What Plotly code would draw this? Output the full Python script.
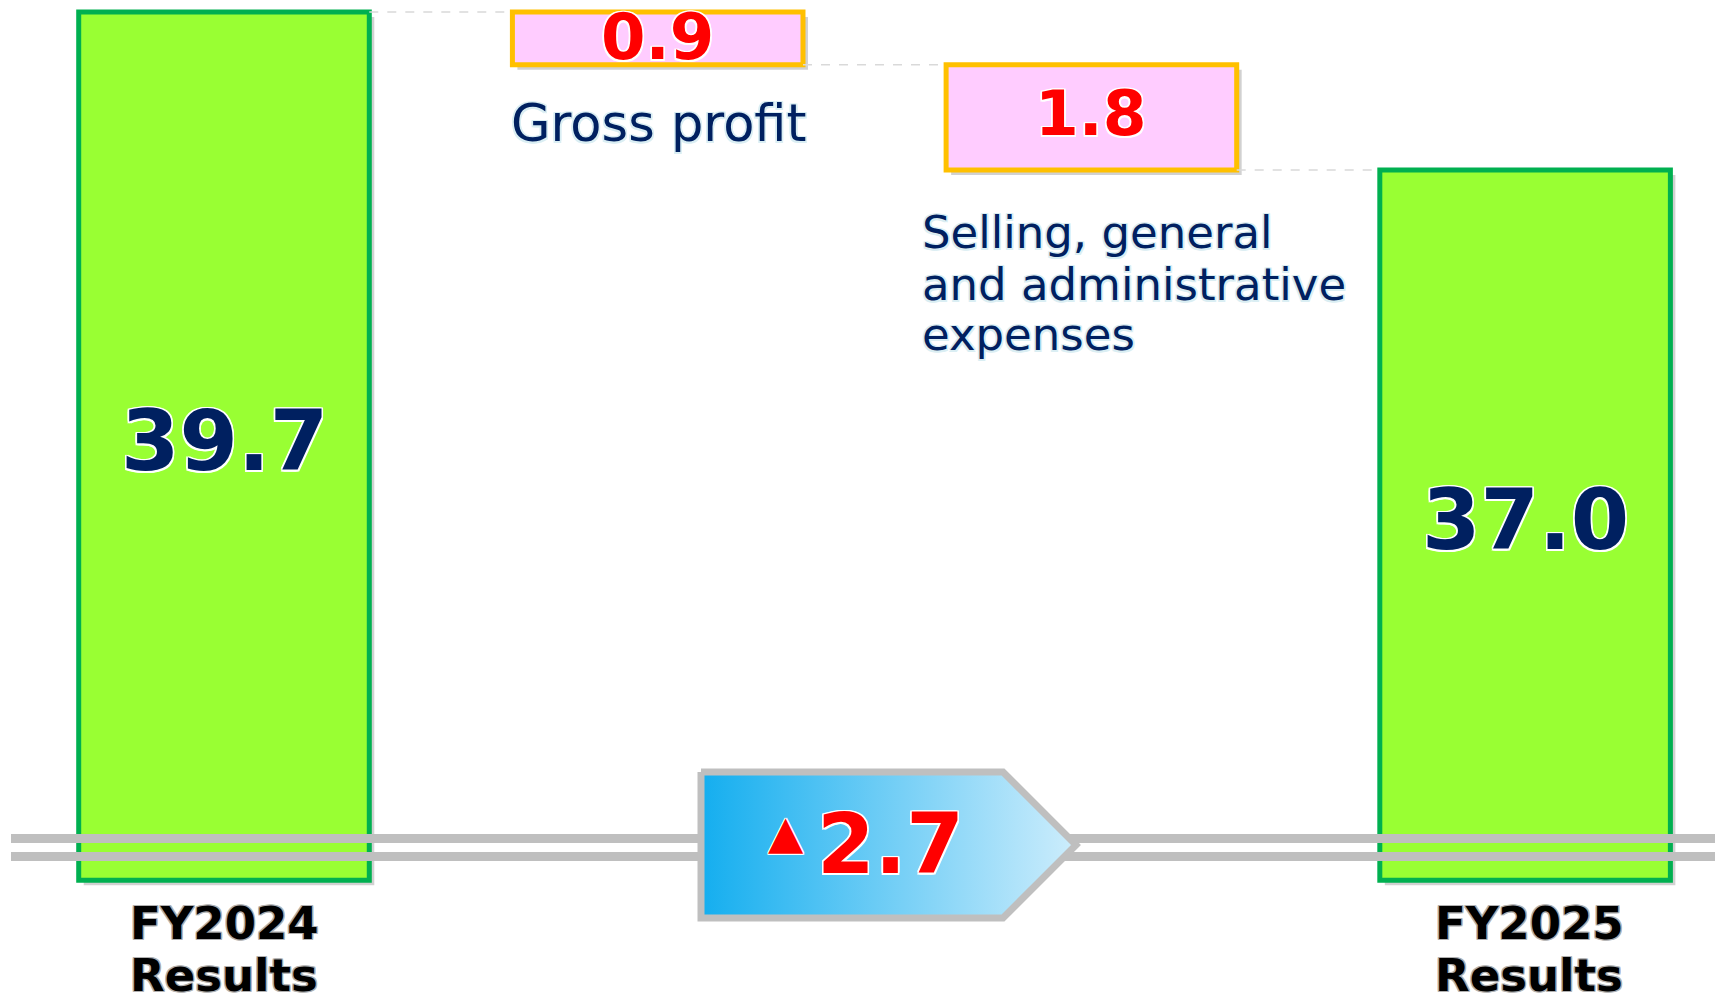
import plotly.graph_objects as go

# ---------------- data ----------------
categories = ["FY2024 Results", "Gross profit",
              "Selling, general and administrative expenses", "FY2025 Results"]
start_value = 39.7
change_values = [-0.9, -1.8]
end_value = 37.0
value_labels = ["39.7", "0.9", "1.8", "37.0"]
label_lines = [["FY2024", "Results"], ["Gross profit"],
               ["Selling, general", "and administrative", "expenses"],
               ["FY2025", "Results"]]
total_change_label = "2.7"
negative_mark = "▲"

# ---------------- geometry / style ----------------
W, H = 1715, 1003
PX_PER_X = 433.7
X_FIRST_PX = 224.0
PX_PER_Y = 58.5
Y_TOP = start_value + 12 / PX_PER_Y
AXIS_FLOOR = 24.86         # visible floor of broken axis
BAR_W = 0.67

XR = [-X_FIRST_PX / PX_PER_X, (W - X_FIRST_PX) / PX_PER_X]
YR = [Y_TOP - H / PX_PER_Y, Y_TOP]


def px_x(p):
    return XR[0] + p / PX_PER_X


def px_y(p):
    return Y_TOP - p / PX_PER_Y


NAVY = "#002060"
TOTAL_FILL, TOTAL_LINE = "#99ff33", "#00b050"
CHG_FILL, CHG_LINE = "#ffccff", "#ffc000"
FONT = "DejaVu Sans"


def halo(c, d=1.5):
    return (f"-{d}px -{d}px 0 {c}, {d}px -{d}px 0 {c}, -{d}px {d}px 0 {c}, {d}px {d}px 0 {c}, "
            f"0 {d}px 0 {c}, 0 -{d}px 0 {c}, {d}px 0 0 {c}, -{d}px 0 0 {c}")


# levels
levels = [start_value]
for c in change_values:
    levels.append(levels[-1] + c)
bases = [AXIS_FLOOR] + [levels[i + 1] for i in range(len(change_values))] + [AXIS_FLOOR]
tops = [start_value] + [levels[i] for i in range(len(change_values))] + [end_value]
heights = [t - b for t, b in zip(tops, bases)]
xs = list(range(len(categories)))
fills = [TOTAL_FILL] + [CHG_FILL] * len(change_values) + [TOTAL_FILL]
lines = [TOTAL_LINE] + [CHG_LINE] * len(change_values) + [TOTAL_LINE]

fig = go.Figure()

# shadows
fig.add_trace(go.Bar(
    x=xs, y=heights, base=[b - 5 / PX_PER_Y for b in bases], width=BAR_W,
    offset=-BAR_W / 2 + 5 / PX_PER_X,
    marker=dict(color="rgba(0,0,0,0.18)", line=dict(width=0)),
    hoverinfo="skip", showlegend=False))

fig.add_trace(go.Bar(
    x=xs, y=heights, base=bases, width=BAR_W,
    marker=dict(color=fills, line=dict(color=lines, width=5)),
    hoverinfo="skip", showlegend=False))

# dashed connectors
for i in range(len(categories) - 1):
    lvl = tops[i] if i == 0 else bases[i]
    fig.add_trace(go.Scatter(
        x=[i + BAR_W / 2, i + 1 - BAR_W / 2], y=[lvl, lvl], mode="lines",
        line=dict(color="#d9d9d9", width=1.5, dash="dash"),
        hoverinfo="skip", showlegend=False))

# axis break lines
for ypx in (838.5, 856.5):
    fig.add_trace(go.Scatter(
        x=[px_x(11), px_x(W)], y=[px_y(ypx)] * 2, mode="lines",
        line=dict(color="#bfbfbf", width=9), hoverinfo="skip", showlegend=False))

# change arrow
ax = [px_x(p) for p in (701, 1003, 1076, 1003, 701, 701)]
ay = [px_y(p) for p in (772, 772, 845, 918, 918, 772)]
fig.add_trace(go.Scatter(
    x=ax, y=ay, mode="lines", fill="toself",
    fillgradient=dict(type="horizontal",
                      colorscale=[[0, "#14aeef"], [1, "#cdedfc"]]),
    line=dict(color="#bfbfbf", width=7), hoverinfo="skip", showlegend=False))

ann = []
# values inside bars
val_shift = [5.5, 1, 3.5, 5]
val_sizes = [84, 64, 63, 84]
for i, (t, b) in enumerate(zip(tops, bases)):
    is_total = i in (0, len(categories) - 1)
    ann.append(dict(
        x=i, y=(t + b) / 2, text=value_labels[i], showarrow=False,
        xanchor="center", yanchor="middle", yshift=val_shift[i],
        font=dict(family=FONT, size=val_sizes[i], weight="bold",
                  color=NAVY if is_total else "#ff0000", shadow=halo("#ffffff"))))

# total labels below
for i in (0, len(categories) - 1):
    for j, (line, ypx) in enumerate(zip(label_lines[i], (923, 975))):
        ann.append(dict(
            x=i, y=px_y(ypx), text=line, showarrow=False,
            xanchor="center", yanchor="middle", xshift=0 if i == 0 else 4,
            font=dict(family=FONT, size=45, weight="bold", color="#000000",
                      shadow=halo("#b0b0b0", 1.2))))

# change labels
ann.append(dict(
    x=1 - BAR_W / 2, y=bases[1], text=label_lines[1][0], showarrow=False,
    xanchor="left", yanchor="middle", yshift=-59, xshift=-3,
    font=dict(family=FONT, size=51, color=NAVY, shadow=halo("#daeef3", 1.5))))
for j, (line, off) in enumerate(zip(label_lines[2], (62.6, 114.6, 164.6))):
    ann.append(dict(
        x=2 - BAR_W / 2, y=bases[2], text=line, showarrow=False,
        xanchor="left", yanchor="middle", yshift=-off, xshift=-26,
        font=dict(family=FONT, size=45, color=NAVY, shadow=halo("#daeef3", 1.5))))

# arrow text
ann.append(dict(
    x=px_x(785.5), y=px_y(832), text=negative_mark, showarrow=False,
    xanchor="center", yanchor="middle",
    font=dict(family=FONT, size=46, color="#ff0000", shadow=halo("#ffffff", 1))))
ann.append(dict(
    x=px_x(890.5), y=px_y(844.5), text=total_change_label, showarrow=False,
    xanchor="center", yanchor="middle",
    font=dict(family=FONT, size=83, weight="bold", color="#ff0000",
              shadow=halo("#ffffff", 1.5))))

fig.update_layout(
    width=W, height=H, margin=dict(l=0, r=0, t=0, b=0),
    paper_bgcolor="white", plot_bgcolor="white",
    barmode="overlay", showlegend=False, annotations=ann,
    xaxis=dict(range=XR, visible=False, fixedrange=True),
    yaxis=dict(range=YR, visible=False, fixedrange=True),
)

fig.write_html("out.html", config={"displayModeBar": False},
               post_script="document.body.style.margin='0';document.body.style.overflow='hidden';")
